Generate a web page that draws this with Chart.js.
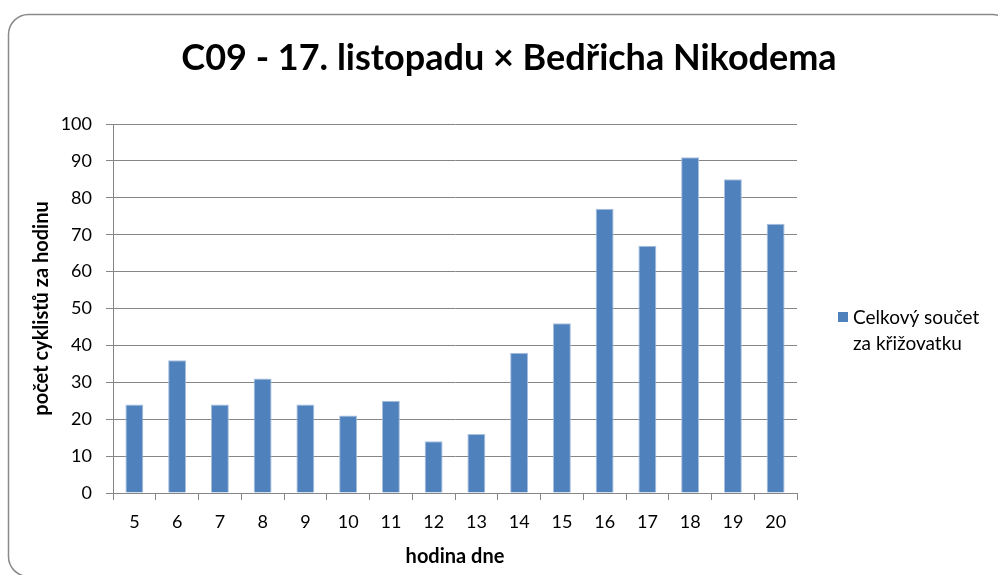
<!DOCTYPE html>
<html>
<head>
<meta charset="utf-8">
<script src="https://cdn.jsdelivr.net/npm/chart.js@4"></script>
<style>
  html, body { margin: 0; padding: 0; background: #fff; }
  #wrap { width: 998px; height: 575px; }
</style>
</head>
<body>
<div id="wrap"><canvas id="chart" width="998" height="575"></canvas></div>
<script>
const hours = ['5', '6', '7', '8', '9', '10', '11', '12', '13', '14', '15', '16', '17', '18', '19', '20'];
const cyclists = [24, 36, 24, 31, 24, 21, 25, 14, 16, 38, 46, 77, 67, 91, 85, 73];
const seriesName = 'Celkový součet za křižovatku';
const legendLines = ['Celkový součet', 'za křižovatku'];
const titleText = 'C09 - 17. listopadu × Bedřicha Nikodema';
const yTitle = 'počet cyklistů za hodinu';
const xTitle = 'hodina dne';

const FONT = 'Lato, "Open Sans", sans-serif';
const barColor = '#4F81BD';

// frame, title and the two-line legend are painted by hand
const framePlugin = {
  id: 'frame',
  beforeDraw(chart) {
    const ctx = chart.ctx;
    ctx.save();
    ctx.strokeStyle = '#8a8a8a';
    ctx.lineWidth = 1.5;
    ctx.beginPath();
    ctx.roundRect(8.5, 14.5, 1004, 562, 20);
    ctx.stroke();
    ctx.restore();
  },
  afterDraw(chart) {
    const ctx = chart.ctx;
    ctx.save();
    ctx.fillStyle = '#000';
    ctx.font = 'bold 36px ' + FONT;
    ctx.textAlign = 'center';
    ctx.textBaseline = 'middle';
    ctx.fillText(titleText, 509, 58);

    ctx.textAlign = 'left';
    ctx.fillStyle = barColor;
    ctx.fillRect(838, 312, 10, 10);
    ctx.fillStyle = '#000';
    ctx.font = '19px ' + FONT;
    ctx.fillText(legendLines[0], 853, 318);
    ctx.fillText(legendLines[1], 853, 344);
    ctx.restore();
  }
};

new Chart(document.getElementById('chart'), {
  type: 'bar',
  data: {
    labels: hours,
    datasets: [{
      label: seriesName,
      data: cyclists,
      backgroundColor: barColor,
      borderColor: '#a9c0de',
      borderWidth: 1,
      barPercentage: 0.42,
      categoryPercentage: 1
    }]
  },
  options: {
    responsive: false,
    animation: false,
    layout: { padding: { left: 28, right: 201, top: 124, bottom: 0 } },
    plugins: {
      legend: { display: false },
      tooltip: { enabled: false },
      title: { display: false }
    },
    scales: {
      x: {
        grid: { drawOnChartArea: false, offset: true, tickLength: 7, color: '#868686' },
        border: { color: '#868686' },
        ticks: { color: '#000', font: { family: FONT, size: 18 }, padding: 11 },
        title: { display: true, text: xTitle, color: '#000', font: { family: FONT, size: 20, weight: 'bold' }, padding: { top: 4, bottom: 6 } },
        afterFit(scale) { scale.height = 82; }
      },
      y: {
        min: 0,
        max: 100,
        ticks: { stepSize: 10, color: '#000', font: { family: FONT, size: 18 }, padding: 14 },
        grid: { color: '#868686', tickLength: 7 },
        border: { color: '#868686' },
        title: { display: true, text: yTitle, color: '#000', font: { family: FONT, size: 20, weight: 'bold' }, padding: 2 },
        afterFit(scale) { scale.width = 85; }
      }
    }
  },
  plugins: [framePlugin]
});
</script>
</body>
</html>
